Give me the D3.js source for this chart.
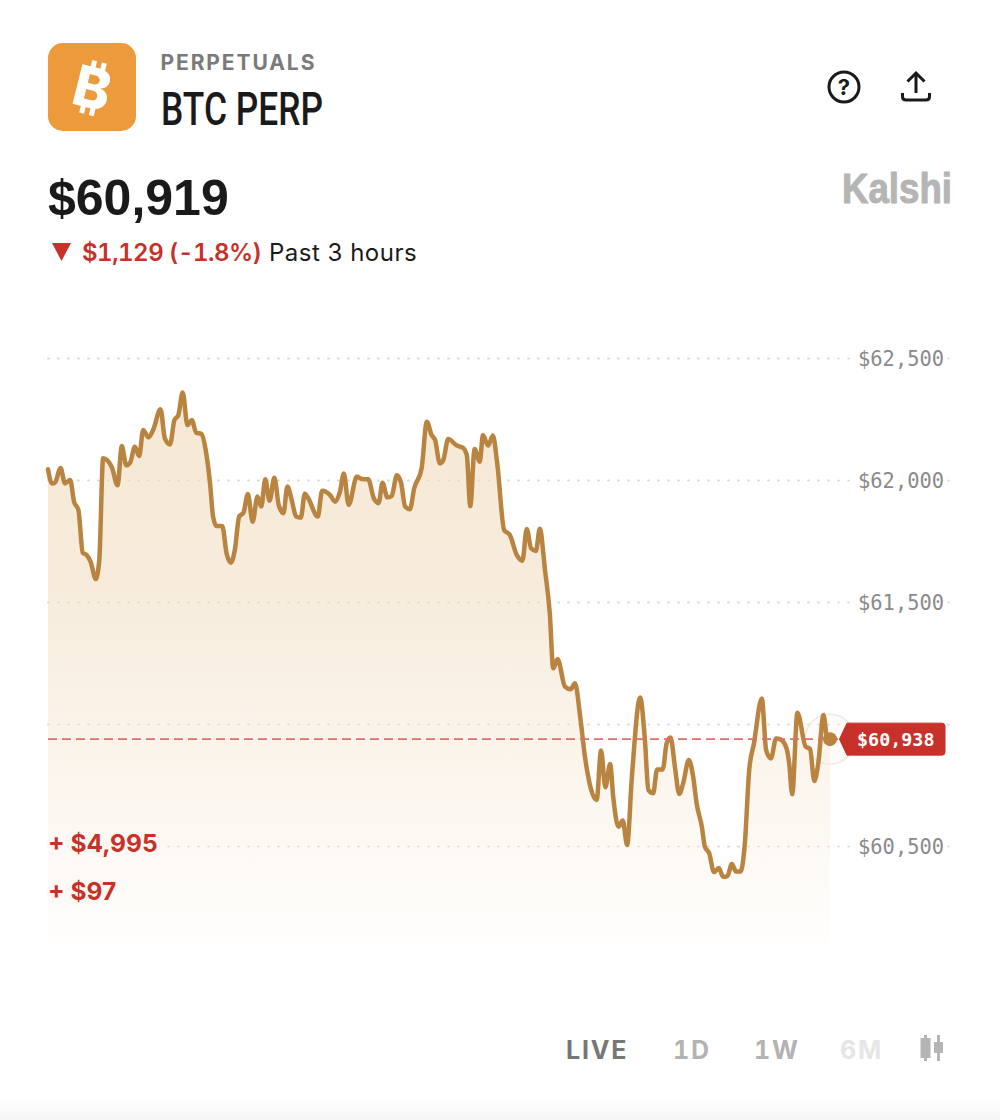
<!DOCTYPE html>
<html>
<head>
  <meta charset="UTF-8">
  <title>BTC PERP</title>
  <script src="https://d3js.org/d3.v7.min.js"></script>
  <style>
    html, body { margin: 0; padding: 0; background: #fff; }
    svg { display: block; }
    text { font-family: Inter, "Noto Sans", sans-serif; }
    .tnum { font-feature-settings: "tnum"; }
    .tick text { font-family: "DejaVu Sans Mono", monospace; }
  </style>
</head>
<body>
<svg width="1000" height="1120"></svg>
<script>
// minutes since start of the 3 hour window
const minutes = [0,0.9,1.6,2.9,3.9,5.1,6,7,8,8.9,9.8,11,11.8,12.7,14.7,16,17,18,18.9,20,21,21.9,23.1,24.2,25.9,26.9,28.1,29.1,30,31,32.1,33.1,34.1,35.3,36.3,37.3,38,38.8,40.1,41.1,42.1,43,44,45,46,47.1,48.2,49.1,50,51,52.1,53.1,54.2,55.1,56.1,57.1,58.2,59.1,59.9,62.1,63.1,64.9,66.1,67.2,68.1,69.2,71.1,72.2,73.7,75,76.1,77,78.1,79.1,80.3,81.3,82.2,83.3,84.3,86,87.2,88.3,89.1,90.2,91,92.1,94.1,95.5,96.4,97.2,98.2,99.4,100.1,101.3,102.4,103.4,105,106.3,107.9,109.2,110.2,111.2,112.3,113.2,114.4,115.5,116.3,117.3,119,120.3,121.3,122.5,123.6,126.3,127.3,128.3,129.4,130.1,131.3,132.3,133.3,134.4,136.3,137.4,138.2,139.3,140.2,141.5,142.4,143.3,144.3,145.3,146.2,147.5,148.5,149.3,150.5,151.2,152.2,153.3,154.4,155.4,156.4,157.4,158.4,159.4,160.4,161.4,162.5,164.3,165.3,166.4,167.6,168.6,170,170.6,171.3,172.5,174.4,175.4,176.4,177.3,178.5,179.4,180];
const prices = [62044,61986,61989,62049,61986,62000,61911,61877,61702,61693,61665,61594,61672,62089,62052,61978,62139,62060,62071,62136,62098,62205,62175,62205,62290,62171,62146,62246,62266,62359,62225,62246,62194,62189,62123,61986,61850,61811,61811,61700,61661,61713,61850,61866,61943,61829,61932,61891,62003,61915,62009,61898,61864,61973,61918,61850,61845,61944,61925,61850,61956,61939,61911,61952,62027,61898,62014,62004,62003,61925,61905,61989,61929,61934,62019,61986,61891,61880,61966,62048,62239,62184,62164,62068,62082,62168,62141,62132,62102,61893,62127,62075,62184,62141,62182,62068,61795,61775,61693,61669,61799,61720,61709,61800,61631,61454,61228,61266,61153,61142,61167,61030,60866,60689,60891,60741,60836,60702,60579,60604,60504,60784,61109,60934,60730,60716,60814,60814,60921,60945,60825,60713,60757,60852,60784,60675,60579,60497,60470,60393,60410,60374,60377,60426,60395,60395,60511,60811,60921,61105,60893,60859,60941,60937,60900,60839,60712,61046,60907,60898,60766,60839,61037,60937,60938];

const tickValues = [62500,62000,61500,61000,60500];
const tickLabels = ["$62,500","$62,000","$61,500","","$60,500"];
const currentPrice = 60938;
const areaFloor = 60094;
const rangeButtons = ["LIVE","1D","1W","6M"];
const rangeColors = ["#777777","#b3b3b3","#b3b3b3","#e6e6e6"];
const rangeX = [566,673,754,840];
const payouts = ["+ $4,995","+ $97"];
const payoutY = [852,900];

const lineColor = "#b98340", red = "#c8302a", ink = "#1a1a1a";

const svg = d3.select("svg");
const x = d3.scaleLinear().domain([0,180]).range([48,830]);
const y = d3.scaleLinear().domain([60500,62500]).range([846,358]);

const defs = svg.append("defs");

// faint shade along the bottom edge
const foot = defs.append("linearGradient").attr("id","foot").attr("x1",0).attr("x2",0).attr("y1",0).attr("y2",1);
foot.append("stop").attr("offset",0).attr("stop-color","#ffffff");
foot.append("stop").attr("offset",1).attr("stop-color","#f6f6f6");
svg.append("rect").attr("x",0).attr("y",1096).attr("width",1000).attr("height",24).attr("fill","url(#foot)");

// header
svg.append("rect").attr("x",48).attr("y",43).attr("width",88).attr("height",88).attr("rx",15).attr("fill","#ec9a3c");
const btc = svg.append("g").attr("transform","translate(92.5,88) rotate(14)").attr("fill","#fff");
btc.append("text").attr("text-anchor","middle").attr("y",20).attr("font-size",56).attr("font-weight",800).text("B");
[-7,3].forEach(dx => {
  btc.append("rect").attr("x",dx).attr("y",-27).attr("width",5).attr("height",8);
  btc.append("rect").attr("x",dx).attr("y",19).attr("width",5).attr("height",8);
});

svg.append("text").attr("x",160.500).attr("y",69.500).attr("font-size",21).attr("font-weight",700)
  .attr("letter-spacing",1.9).attr("fill","#7a7a7a").text("PERPETUALS");
svg.append("text").attr("x",161).attr("y",125).attr("font-size",46).attr("font-weight",500)
  .attr("textLength",162).attr("lengthAdjust","spacingAndGlyphs").attr("fill",ink).style("font-family","Roboto").text("BTC PERP");

svg.append("text").attr("x",48).attr("y",215).attr("font-size",50).attr("font-weight",700).attr("fill",ink)
  .style("font-family","Liberation Sans").text("$60,919");
svg.append("path").attr("d","M52,243H71L61.500,261Z").attr("fill",red);
svg.append("text").attr("class","tnum").attr("x",82).attr("y",261).attr("font-size",24).attr("font-weight",600)
  .attr("letter-spacing",-0.5).attr("fill",red).text("$1,129 (-1.8%)");
svg.append("text").attr("x",269).attr("y",261).attr("font-size",24).attr("letter-spacing",0.5).attr("fill",ink).text("Past 3 hours");

// help + share icons
svg.append("circle").attr("cx",844).attr("cy",87).attr("r",15).attr("fill","none").attr("stroke",ink).attr("stroke-width",3);
svg.append("text").attr("x",844).attr("y",95).attr("text-anchor","middle").attr("font-size",22).attr("font-weight",700).attr("fill",ink).text("?");
svg.append("path").attr("d","M916,93V73M907.500,81.500L916,73L924.500,81.500M902.500,93V96.500Q902.500,100 906,100H926Q929.500,100 929.500,96.500V93")
  .attr("fill","none").attr("stroke",ink).attr("stroke-width",3);

svg.append("text").attr("x",842).attr("y",203).attr("font-size",42).attr("font-weight",700)
  .attr("textLength",110).attr("lengthAdjust","spacingAndGlyphs").attr("fill","#b5b5b5")
  .attr("stroke","#b5b5b5").attr("stroke-width",1).style("font-family","Liberation Sans").text("Kalshi");

// grid + labels
const axis = d3.axisRight(y).tickValues(tickValues).tickSize(902)
  .tickFormat((d,i) => tickLabels[i]);
const gAxis = svg.append("g").attr("transform","translate(47.5,0)").call(axis);
gAxis.select(".domain").remove();
gAxis.selectAll(".tick line").attr("stroke","#cfcfcf").attr("stroke-width",1.6).attr("stroke-dasharray","2 8");
gAxis.selectAll(".tick").filter((d,i) => tickLabels[i]).insert("rect","text")
  .attr("x",803).attr("y",-16).attr("width",94).attr("height",32).attr("fill","#fff");
gAxis.selectAll(".tick text").attr("x",896.5).attr("text-anchor","end").attr("dy","0.35em")
  .attr("font-size",20.4).attr("fill","#8a8a8a");

// price area + line
const points = minutes.map((m,i) => [m, prices[i]]);
const grad = defs.append("linearGradient").attr("id","fade").attr("gradientUnits","userSpaceOnUse")
  .attr("x1",0).attr("x2",0).attr("y1",y(d3.max(prices))).attr("y2",y(areaFloor));
grad.append("stop").attr("offset",0).attr("stop-color","#f6e8d4");
grad.append("stop").attr("offset",0.35).attr("stop-color","#f7ecdc");
grad.append("stop").attr("offset",1).attr("stop-color","#fffefd");

svg.append("path").datum(points).attr("fill","url(#fade)")
  .attr("d", d3.area().x(d => x(d[0])).y0(y(areaFloor)).y1(d => y(d[1])).curve(d3.curveMonotoneX));

// redraw the dots faintly over the area
svg.append("g").attr("transform","translate(47.5,0)").call(axis).call(g => {
  g.select(".domain").remove();
  g.selectAll("text").remove();
  g.selectAll(".tick line").attr("x2",783).attr("stroke","#ddd6cc").attr("stroke-width",1.6).attr("stroke-dasharray","2 8");
});

// current price
const cx = x(minutes[minutes.length-1]), cy = y(currentPrice);
svg.append("circle").attr("cx",cx).attr("cy",cy).attr("r",25).attr("fill","#fbf3ea").attr("fill-opacity",0.3)
  .attr("stroke","#f0e8df").attr("stroke-width",1.5);

svg.append("path").datum(points).attr("fill","none").attr("stroke",lineColor).attr("stroke-width",4.5)
  .attr("stroke-linejoin","round").attr("stroke-linecap","round")
  .attr("d", d3.line().x(d => x(d[0])).y(d => y(d[1])).curve(d3.curveMonotoneX));

svg.append("line").attr("x1",48).attr("x2",cx+8).attr("y1",cy).attr("y2",cy)
  .attr("stroke","#de6f69").attr("stroke-width",1.8).attr("stroke-dasharray","9 5");
svg.append("circle").attr("cx",cx).attr("cy",cy).attr("r",7).attr("fill",lineColor);
svg.append("path").attr("fill",red).attr("stroke",red).attr("stroke-width",1).attr("stroke-linejoin","round")
  .attr("d",`M${cx+9.500},${cy}L${cx+17},${cy-16}H${cx+112}Q${cx+115},${cy-16} ${cx+115},${cy-13}V${cy+13}Q${cx+115},${cy+16} ${cx+112},${cy+16}H${cx+17}Z`);
svg.append("text").attr("x",cx+27).attr("y",cy+7).attr("font-size",18.4).attr("font-weight",700).attr("fill","#fff")
  .style("font-family","DejaVu Sans Mono").text("$" + d3.format(",")(currentPrice));

// payouts
svg.selectAll(".payout").data(payouts).enter().append("text").attr("class","payout")
  .attr("x",48).attr("y",(d,i) => payoutY[i]).attr("font-size",24.5).attr("font-weight",700).attr("fill",red)
  .attr("stroke","#fdf8f2").attr("stroke-width",6).style("paint-order","stroke").text(d => d);

// range buttons
svg.selectAll(".range").data(rangeButtons).enter().append("text").attr("class","range tnum")
  .attr("x",(d,i) => rangeX[i]).attr("y",1059).attr("font-size",25).attr("font-weight",700)
  .attr("letter-spacing",1.8).attr("fill",(d,i) => rangeColors[i]).text(d => d);
const candle = svg.append("g").attr("fill","#b5b5b5");
candle.append("rect").attr("x",920.500).attr("y",1038).attr("width",10).attr("height",20);
candle.append("rect").attr("x",924).attr("y",1035).attr("width",3).attr("height",26);
candle.append("rect").attr("x",934).attr("y",1042).attr("width",9).attr("height",11);
candle.append("rect").attr("x",937).attr("y",1035).attr("width",3).attr("height",26);
</script>
</body>
</html>
